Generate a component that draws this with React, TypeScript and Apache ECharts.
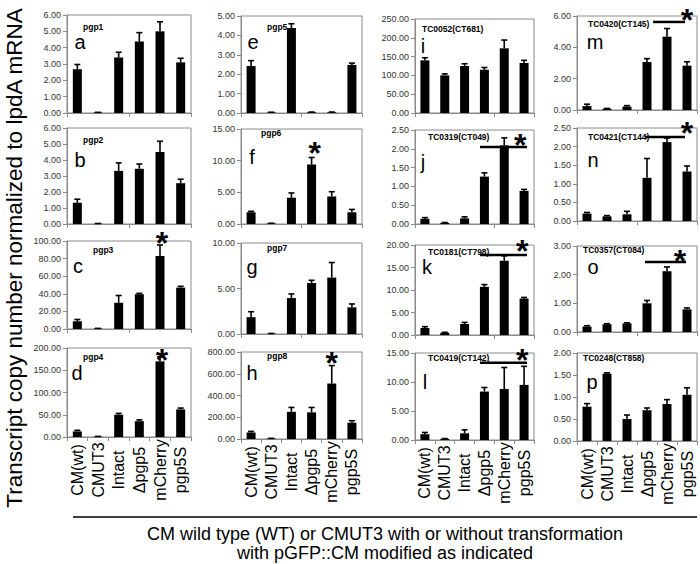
import React, { useEffect, useRef } from "react";
import * as echarts from "echarts";

// ---- categories ----
const cats = ["CM(wt)", "CMUT3", "Intact", "Δpgp5", "mCherry", "pgp5S"];

// ---- series values (mean) and standard errors ----
const pgp1 = [2.68, 0.03, 3.4, 4.38, 5.0, 3.1];
const pgp1Err = [0.29, 0.01, 0.32, 0.54, 0.58, 0.25];
const pgp2 = [1.33, 0.02, 3.32, 3.45, 4.5, 2.55];
const pgp2Err = [0.22, 0.01, 0.5, 0.3, 0.67, 0.25];
const pgp3 = [8.8, 0.5, 29.8, 39.5, 83, 47];
const pgp3Err = [2, 0.2, 8.3, 1, 12.5, 1.5];
const pgp4 = [12.5, 1, 50, 35.5, 170, 62];
const pgp4Err = [2.5, 0.3, 3, 3, 10, 3];
const pgp5 = [2.42, 0.03, 4.38, 0.04, 0.04, 2.48];
const pgp5Err = [0.28, 0.01, 0.22, 0.01, 0.01, 0.09];
const pgp6 = [1.85, 0.1, 4.15, 9.4, 4.35, 1.85];
const pgp6Err = [0.15, 0.02, 0.75, 1.1, 0.75, 0.45];
const pgp7 = [1.85, 0.05, 3.95, 5.6, 6.2, 2.93];
const pgp7Err = [0.6, 0.01, 0.45, 0.3, 1.65, 0.37];
const pgp8 = [60, 5, 250, 245, 510, 150];
const pgp8Err = [10, 1, 40, 45, 165, 18];
const tc0052 = [140, 100, 125, 115, 172, 133];
const tc0052Err = [7, 4, 6, 6, 22, 7];
const tc0319 = [0.14, 0.03, 0.15, 1.26, 2.09, 0.88];
const tc0319Err = [0.03, 0.01, 0.04, 0.1, 0.2, 0.04];
const tc0181 = [1.55, 0.5, 2.45, 10.7, 16.5, 8.1];
const tc0181Err = [0.3, 0.1, 0.35, 0.5, 1.1, 0.25];
const tc0419 = [1.0, 0.2, 1.15, 8.35, 8.8, 9.5];
const tc0419Err = [0.3, 0.05, 0.6, 0.7, 3.7, 3.2];
const tc0420 = [0.25, 0.08, 0.22, 3.06, 4.68, 2.83];
const tc0420Err = [0.12, 0.02, 0.06, 0.22, 0.52, 0.25];
const tc0421 = [0.2, 0.125, 0.18, 1.16, 2.12, 1.33];
const tc0421Err = [0.03, 0.02, 0.08, 0.52, 0.11, 0.15];
const tc0357 = [0.19, 0.27, 0.3, 1.0, 2.12, 0.79];
const tc0357Err = [0.03, 0.02, 0.02, 0.1, 0.15, 0.05];
const tc0248 = [0.78, 1.53, 0.5, 0.7, 0.84, 1.05];
const tc0248Err = [0.07, 0.02, 0.09, 0.05, 0.1, 0.16];

// ---- panel names, letters, axis scales ----
const panelNames = [
  "pgp1", "pgp2", "pgp3", "pgp4",
  "pgp5", "pgp6", "pgp7", "pgp8",
  "TC0052(CT681)", "TC0319(CT049)", "TC0181(CT798)", "TC0419(CT142)",
  "TC0420(CT145)", "TC0421(CT144)", "TC0357(CT084)", "TC0248(CT858)",
];
const panelLetters = ["a", "b", "c", "d", "e", "f", "g", "h", "i", "j", "k", "l", "m", "n", "o", "p"];
const axisMax = [6, 6, 100, 200, 5, 15, 10, 800, 250, 2.5, 20, 15, 6, 2.5, 3, 2];
const axisStep = [1, 1, 20, 50, 1, 5, 5, 200, 50, 0.5, 5, 5, 2, 0.5, 1, 0.5];

// significance brackets: panel, from category, to category, value
const sigPanel = [9, 10, 11, 12, 13, 14];
const sigFrom = [2.78, 2.78, 2.78, 3.3, 2.9, 2.9];
const sigTo = [5.15, 5.15, 5.15, 4.9, 4.9, 4.95];
const sigValue = [2.05, 17.8, 13.3, 5.62, 2.26, 2.44];

// asterisks: panel, category position, value
const starPanel = [2, 3, 5, 7, 9, 10, 11, 12, 13, 14];
const starCat = [4.1, 4.1, 3.15, 4.0, 4.8, 4.9, 4.9, 5.0, 5.0, 4.65];
const starValue = [107, 190, 12.5, 770, 2.31, 20.4, 15.2, 6.25, 2.58, 2.75];

const yTitle = "Transcript copy number normalized to lpdA mRNA";
const xTitle1 = "CM wild type (WT) or CMUT3 with or without transformation";
const xTitle2 = "with pGFP::CM modified as indicated";

const allValues = [pgp1, pgp2, pgp3, pgp4, pgp5, pgp6, pgp7, pgp8, tc0052, tc0319, tc0181, tc0419, tc0420, tc0421, tc0357, tc0248];
const allErrors = [pgp1Err, pgp2Err, pgp3Err, pgp4Err, pgp5Err, pgp6Err, pgp7Err, pgp8Err, tc0052Err, tc0319Err, tc0181Err, tc0419Err, tc0420Err, tc0421Err, tc0357Err, tc0248Err];

// ---- layout (pixels) ----
const colLeft = [67, 241, 415, 577];
const colWidth = [124, 121, 119, 120];
const rowSpans = [
  [[15, 113], [128, 224], [241, 329], [348, 437]],
  [[16, 113], [129, 224], [243, 334], [352, 439]],
  [[19, 113], [130, 224], [245, 335], [353, 440]],
  [[16, 110], [128, 221], [246, 332], [353, 441]],
];
const nameOff = [[16, 12], [16, 12], [26, 9], [16, 9], [26, 11], [20, 4], [26, 5], [26, 4], [7, 10], [13, 7], [13, 7], [13, 5], [11, 8], [11, 9], [6, 4], [6, 5]];
const letterOff = [[13, 27], [13, 32], [11, 25], [10, 25], [12, 26], [11, 28], [11, 24], [11, 21], [8, 27], [8, 32], [12, 22], [10, 29], [18, 26], [16, 32], [16, 21], [15, 29]];

const FONT = '"Liberation Sans", Arial, sans-serif';
const GRAY = "#8a8a8a";

function buildOption() {
  const grid: any[] = [];
  const xAxis: any[] = [];
  const yAxis: any[] = [];
  const series: any[] = [];
  const graphic: any[] = [];

  for (let p = 0; p < 16; p++) {
    const col = Math.floor(p / 4);
    const row = p % 4;
    const left = colLeft[col];
    const width = colWidth[col];
    const top = rowSpans[col][row][0];
    const height = rowSpans[col][row][1] - top;
    grid.push({ left, top, width, height, show: true, borderColor: GRAY, borderWidth: 1, containLabel: false });
    xAxis.push({
      type: "category",
      gridIndex: p,
      data: cats,
      axisLine: { lineStyle: { color: GRAY, width: 1 } },
      axisTick: { show: true, length: 4, lineStyle: { color: GRAY } },
      axisLabel: row === 3
        ? { show: true, rotate: 90, interval: 0, align: "center", verticalAlign: "middle", margin: 33, fontSize: 16, fontFamily: FONT, color: "#000" }
        : { show: false },
    });
    yAxis.push({
      type: "value",
      gridIndex: p,
      min: 0,
      max: axisMax[p],
      interval: axisStep[p],
      axisLine: { show: true, lineStyle: { color: GRAY, width: 1 } },
      axisTick: { show: true, length: 4, lineStyle: { color: GRAY } },
      splitLine: { show: false },
      axisLabel: { fontSize: 9, fontFamily: FONT, color: "#333", margin: 6, formatter: (v: number) => v.toFixed(2) },
    });
    series.push({
      type: "bar",
      xAxisIndex: p,
      yAxisIndex: p,
      data: allValues[p],
      barWidth: 9,
      itemStyle: { color: "#000" },
      z: 2,
    });
    series.push({
      type: "custom",
      xAxisIndex: p,
      yAxisIndex: p,
      z: 3,
      data: allValues[p].map((v, k) => [k, v, v + allErrors[p][k]]),
      encode: { x: 0, y: [1, 2] },
      renderItem: (params: any, api: any) => {
        const k = api.value(0);
        const base = api.coord([k, api.value(1)]);
        const tp = api.coord([k, api.value(2)]);
        const st = { stroke: "#000", lineWidth: 1.6 };
        return {
          type: "group",
          children: [
            { type: "line", shape: { x1: base[0], y1: base[1], x2: base[0], y2: tp[1] }, style: st },
            { type: "line", shape: { x1: base[0] - 3, y1: tp[1], x2: base[0] + 3, y2: tp[1] }, style: st },
          ],
        };
      },
    });

    graphic.push({
      type: "text",
      x: left + nameOff[p][0],
      y: top + nameOff[p][1],
      style: { text: panelNames[p], font: `bold 8.5px ${FONT}`, fill: "#000", align: "left", verticalAlign: "middle" },
      z: 10,
    });
    graphic.push({
      type: "text",
      x: left + letterOff[p][0],
      y: top + letterOff[p][1],
      style: { text: panelLetters[p], font: `20px ${FONT}`, fill: "#000", align: "center", verticalAlign: "middle" },
      z: 10,
    });
  }

  // significance brackets
  for (let s = 0; s < sigPanel.length; s++) {
    const p = sigPanel[s];
    series.push({
      type: "custom",
      xAxisIndex: p,
      yAxisIndex: p,
      z: 4,
      clip: false,
      data: [[0, sigValue[s], sigFrom[s], sigTo[s]]],
      encode: { x: 0, y: 1 },
      renderItem: (params: any, api: any) => {
        const c0 = api.coord([0, api.value(1)]);
        const c1 = api.coord([1, api.value(1)]);
        const bw = c1[0] - c0[0];
        const x1 = c0[0] + api.value(2) * bw;
        const x2 = c0[0] + api.value(3) * bw;
        return { type: "line", shape: { x1, y1: c0[1], x2, y2: c0[1] }, style: { stroke: "#000", lineWidth: 2.5 } };
      },
    });
  }

  // asterisks
  for (let s = 0; s < starPanel.length; s++) {
    const p = starPanel[s];
    series.push({
      type: "custom",
      xAxisIndex: p,
      yAxisIndex: p,
      z: 5,
      clip: false,
      data: [[0, starValue[s], starCat[s]]],
      encode: { x: 0, y: 1 },
      renderItem: (params: any, api: any) => {
        const c0 = api.coord([0, api.value(1)]);
        const c1 = api.coord([1, api.value(1)]);
        const bw = c1[0] - c0[0];
        const x = c0[0] + api.value(2) * bw;
        return {
          type: "text",
          x,
          y: c0[1] + 8,
          style: { text: "*", font: `bold 32px ${FONT}`, fill: "#000", align: "center", verticalAlign: "middle" },
        };
      },
    });
  }

  graphic.push({
    type: "text",
    x: 14,
    y: 258,
    rotation: Math.PI / 2,
    style: { text: yTitle, font: `22.5px ${FONT}`, fill: "#000", align: "center", verticalAlign: "middle" },
  });
  graphic.push({
    type: "line",
    shape: { x1: 73, y1: 517, x2: 697, y2: 517 },
    style: { stroke: "#000", lineWidth: 1.5 },
  });
  graphic.push({
    type: "text",
    x: 385,
    y: 534,
    style: { text: xTitle1, font: `18px ${FONT}`, fill: "#000", align: "center", verticalAlign: "middle" },
  });
  graphic.push({
    type: "text",
    x: 385,
    y: 553,
    style: { text: xTitle2, font: `18px ${FONT}`, fill: "#000", align: "center", verticalAlign: "middle" },
  });

  return { animation: false, backgroundColor: "#fff", grid, xAxis, yAxis, series, graphic };
}

export default function App() {
  const ref = useRef<HTMLDivElement>(null);
  useEffect(() => {
    if (!ref.current) return;
    const chart = echarts.init(ref.current, undefined, { renderer: "svg" });
    chart.setOption(buildOption() as any);
    return () => chart.dispose();
  }, []);
  return <div ref={ref} style={{ position: "absolute", left: 0, top: 0, width: 700, height: 564 }} />;
}
